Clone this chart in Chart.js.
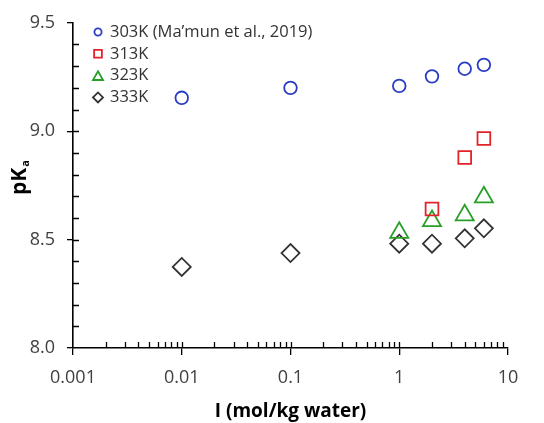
<!DOCTYPE html>
<html>
<head>
<meta charset="utf-8">
<script src="https://cdn.jsdelivr.net/npm/chart.js@4.4.0/dist/chart.umd.min.js"></script>
<style>
  html, body { margin: 0; padding: 0; background: #fff; }
  #wrap { width: 544px; height: 423px; }
</style>
</head>
<body>
<div id="wrap"><canvas id="myChart"></canvas></div>
<script>
// values
const ionic303 = [0.01, 0.1, 1, 2, 4, 6];
const pka303 = [9.154, 9.20, 9.209, 9.253, 9.288, 9.306];
const ionic313 = [2, 4, 6];
const pka313 = [8.641, 8.879, 8.966];
const ionic323 = [1, 2, 4, 6];
const pka323 = [8.532, 8.586, 8.613, 8.696];
const ionic333 = [0.01, 0.1, 1, 2, 4, 6];
const pka333 = [8.374, 8.438, 8.481, 8.481, 8.506, 8.552];
const seriesLabels = ['303K (Ma\u2019mun et al., 2019)', '313K', '323K', '333K'];
const xTicks = [0.001, 0.01, 0.1, 1, 10];
const yTicks = [8.0, 8.5, 9.0, 9.5];

const FONT = "'Open Sans', 'Noto Sans', sans-serif";
const toPoints = (xs, ys) => xs.map((x, i) => ({ x: x, y: ys[i] }));

const styles = [
    { color: '#2b3cc4', pointStyle: 'circle', r: 6.3, lr: 3.6 },
    { color: '#e4222a', pointStyle: 'rect', r: 9, lr: 5.5 },
    { color: '#28a028', pointStyle: 'triangle', r: 10.4, lr: 5.8 },
    { color: '#333333', pointStyle: 'rectRot', r: 9, lr: 5 },
];
const seriesData = [
    toPoints(ionic303, pka303),
    toPoints(ionic313, pka313),
    toPoints(ionic323, pka323),
    toPoints(ionic333, pka333),
];

// inner ticks + legend + y title with subscript
const extras = {
    id: 'extras',
    afterDraw(chart) {
        const ctx = chart.ctx;
        const xs = chart.scales.x, ys = chart.scales.y;
        const area = chart.chartArea;
        ctx.save();
        ctx.strokeStyle = '#000';
        ctx.lineWidth = 1.3;
        ctx.beginPath();
        for (let k = 1; k < 15; k++) {
            const py = Math.round(ys.getPixelForValue(8 + k * 0.1)) + 0.5;
            ctx.moveTo(area.left, py);
            ctx.lineTo(area.left + 6, py);
        }
        for (let d = 0.001; d < 10; d *= 10) {
            for (let m = 1; m <= 9; m++) {
                if (d === 0.001 && m === 1) continue;
                const px = Math.round(xs.getPixelForValue(d * m)) + 0.5;
                ctx.moveTo(px, area.bottom);
                ctx.lineTo(px, area.bottom - 6);
            }
        }
        ctx.stroke();

        // legend
        chart.data.datasets.forEach((ds, i) => {
            const st = styles[i];
            const ly = 32 + 21.8 * i;
            ctx.strokeStyle = st.color;
            ctx.fillStyle = 'rgba(0,0,0,0)';
            ctx.lineWidth = 1.8;
            Chart.helpers.drawPoint(ctx, { pointStyle: st.pointStyle, radius: st.lr, rotation: 0, borderWidth: 1.8 }, 98, st.pointStyle === 'triangle' ? ly + 1.5 : ly);
            ctx.fillStyle = '#333';
            ctx.font = '16.5px ' + FONT;
            ctx.textBaseline = 'middle';
            ctx.textAlign = 'left';
            ctx.fillText(ds.label, 110, ly);
        });

        // y title pKa
        ctx.translate(20, 178);
        ctx.rotate(-Math.PI / 2);
        ctx.fillStyle = '#000';
        ctx.textBaseline = 'middle';
        ctx.font = 'bold 21px ' + FONT;
        const w1 = ctx.measureText('pK').width;
        ctx.font = 'bold 11px ' + FONT;
        const w2 = ctx.measureText('a').width;
        ctx.textAlign = 'left';
        ctx.font = 'bold 21px ' + FONT;
        ctx.fillText('pK', -(w1 + w2) / 2, 0);
        ctx.font = 'bold 11px ' + FONT;
        ctx.fillText('a', -(w1 + w2) / 2 + w1 + 1, 6);
        ctx.restore();
    }
};

const b = document.getElementById('myChart');
new Chart(b, {
    type: 'scatter',
    data: {
        datasets: seriesData.map((d, i) => ({
            label: seriesLabels[i],
            data: d,
            pointStyle: styles[i].pointStyle,
            pointRadius: styles[i].r,
            pointHoverRadius: styles[i].r,
            borderColor: styles[i].color,
            backgroundColor: 'transparent',
            pointBorderWidth: 1.8,
            showLine: false,
        })),
    },
    options: {
        responsive: true,
        maintainAspectRatio: false,
        animation: false,
        layout: { padding: { top: 18, right: 36, left: 0, bottom: 0 } },
        plugins: {
            legend: { display: false },
            tooltip: { enabled: false },
        },
        scales: {
            x: {
                type: 'logarithmic',
                min: 0.001,
                max: 10,
                afterBuildTicks: (s) => { s.ticks = xTicks.map(v => ({ value: v })); },
                afterFit: (s) => { s.height = 75; },
                grid: { drawOnChartArea: false, tickLength: 7, color: '#000', lineWidth: 1.3 },
                border: { color: '#000', width: 1.6 },
                ticks: {
                    color: '#404040',
                    font: { family: FONT, size: 18 },
                    padding: 12,
                    maxRotation: 0,
                    callback: (v) => String(v),
                },
                title: {
                    display: true,
                    text: 'I (mol/kg water)',
                    color: '#000',
                    font: { family: FONT, size: 19, weight: 'bold' },
                    padding: { top: 7, bottom: 0 },
                },
            },
            y: {
                min: 8.0,
                max: 9.5,
                afterBuildTicks: (s) => { s.ticks = yTicks.map(v => ({ value: v })); },
                afterFit: (s) => { s.width = 73; },
                grid: { drawOnChartArea: false, tickLength: 6, color: '#000', lineWidth: 1.3 },
                border: { color: '#000', width: 1.6 },
                ticks: {
                    color: '#404040',
                    font: { family: FONT, size: 18 },
                    padding: 12,
                    callback: (v) => v.toFixed(1),
                },
            },
        },
    },
    plugins: [extras],
});
</script>
</body>
</html>
